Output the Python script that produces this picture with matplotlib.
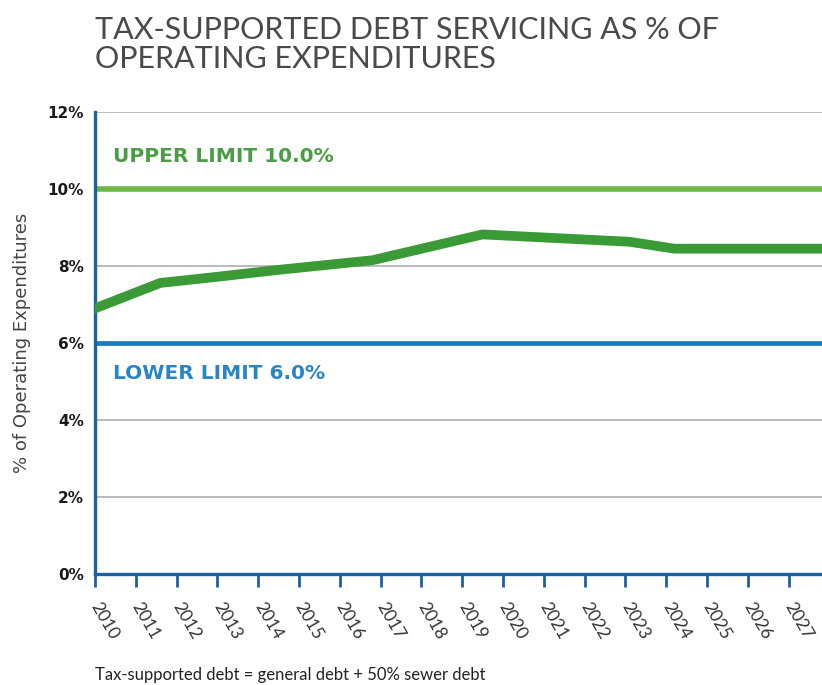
import matplotlib.pyplot as plt

# debt servicing ratio (% of operating expenditures)
years = [2010, 2011.6, 2013, 2014.5, 2016.8, 2019.5, 2023.1, 2024.2, 2027.8]
ratio = [6.9, 7.56, 7.72, 7.9, 8.15, 8.82, 8.63, 8.45, 8.45]

upper_limit = 10.0
lower_limit = 6.0

tick_years = list(range(2010, 2028))
y_ticks = [0, 2, 4, 6, 8, 10, 12]

plt.rcParams['font.family'] = ['Lato', 'DejaVu Sans']

fig = plt.figure(figsize=(8.22, 6.85), dpi=100)
ax = fig.add_axes([95 / 822, 111 / 685, 1 - 95 / 822, 462 / 685])

ax.set_xlim(2010, 2027.82)
ax.set_ylim(0, 12)

for y in y_ticks[1:]:
    ax.axhline(y, color='#b4b4b4', lw=1.3, zorder=1)

ax.axhline(upper_limit, color='#6cba45', lw=4, zorder=2)
ax.axhline(lower_limit, color='#1c7bbf', lw=3.4, zorder=2)
ax.plot(years, ratio, color='#3a9a35', lw=7, solid_joinstyle='miter', zorder=3)

ax.text(2010.45, 10.85, 'UPPER LIMIT 10.0%', color='#4a9c45', fontsize=14.5,
        fontweight='bold', family='DejaVu Sans', va='center', ha='left')
ax.text(2010.45, 5.2, 'LOWER LIMIT 6.0%', color='#2a85c5', fontsize=14.5,
        fontweight='bold', family='DejaVu Sans', va='center', ha='left')

for s in ['top', 'right']:
    ax.spines[s].set_visible(False)
for s in ['left', 'bottom']:
    ax.spines[s].set_color('#1d5fa6')
    ax.spines[s].set_linewidth(2.4)

ax.set_yticks(y_ticks)
ax.set_yticklabels([f'{v}%' for v in y_ticks], fontsize=11, fontweight='bold',
                   family='DejaVu Sans', color='#1a1a1a')
ax.tick_params(axis='y', length=0, pad=8)

ax.set_xticks(tick_years)
ax.set_xticklabels([str(y) for y in tick_years], fontsize=12.5, color='#333333',
                   rotation=-60, rotation_mode='anchor', ha='left', va='center')
ax.tick_params(axis='x', length=9, width=2, color='#1d5fa6', pad=12)

ax.set_ylabel('% of Operating Expenditures', fontsize=13, family='DejaVu Sans',
              color='#444444', labelpad=12)

fig.text(95 / 822, 1 - 16 / 685,
         'TAX-SUPPORTED DEBT SERVICING AS % OF\nOPERATING EXPENDITURES',
         fontsize=22, color='#4a4a4a', va='top', ha='left', linespacing=1.05)

fig.text(95 / 822, 1 - 675 / 685, 'Tax-supported debt = general debt + 50% sewer debt',
         fontsize=12, color='#222222', va='center', ha='left')

fig.savefig('out.png', dpi=100)
